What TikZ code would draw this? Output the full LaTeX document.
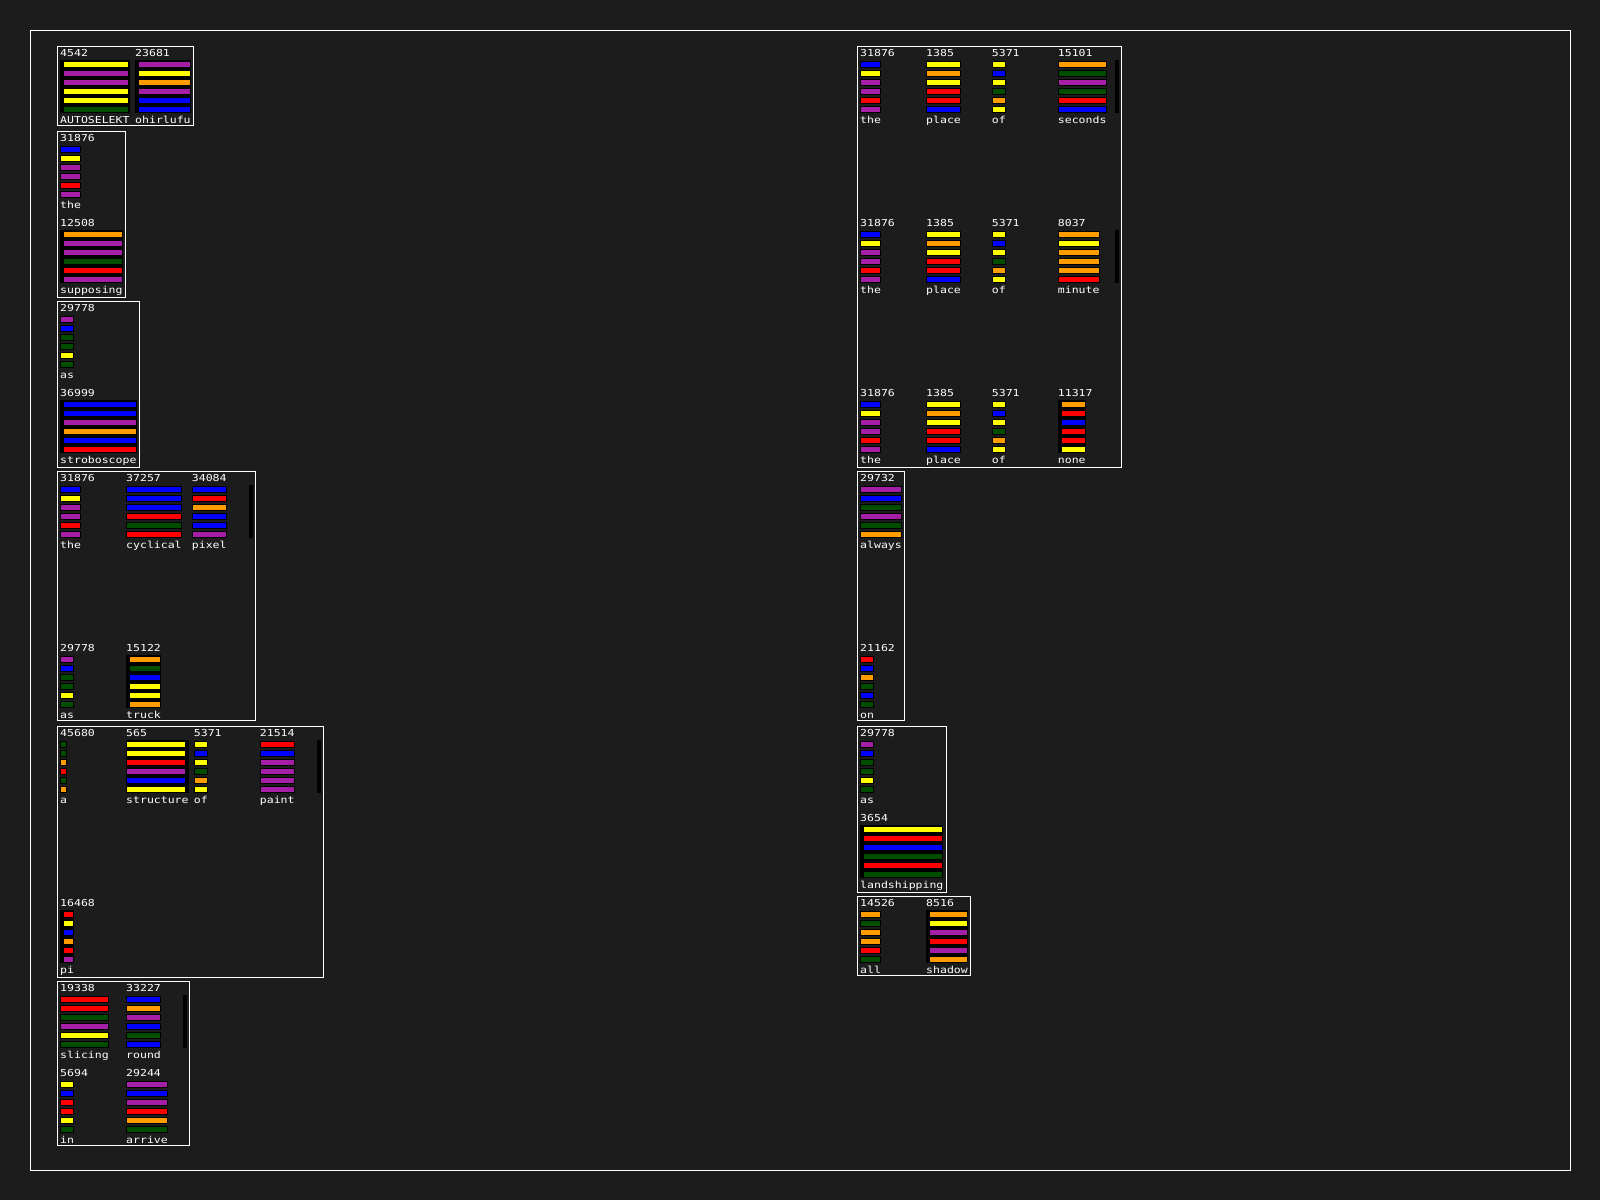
\documentclass[tikz,border=0pt]{standalone}
\usepackage{fontspec}
\newfontfamily\pix[FakeStretch=1.2]{DejaVu Sans Mono}
\definecolor{cY}{HTML}{FFFF00}
\definecolor{cP}{HTML}{A41EA6}
\definecolor{cO}{HTML}{FF9D00}
\definecolor{cG}{HTML}{004D00}
\definecolor{cB}{HTML}{0000FF}
\definecolor{cR}{HTML}{FF0000}
\definecolor{bg}{HTML}{1C1C1C}
\newcounter{nc}
\newcommand\wcell[7]{%
  \stepcounter{nc}%
  \node[lbl, name=n\the\value{nc}] at (#1,#2+7) {#3};
  \foreach \cc [count=\ii from 0] in {#7}{%
    \draw[bar, fill=c\cc] (#5+0.5,#2+11.8+9*\ii) rectangle (#6-0.5,#2+17.8+9*\ii);
  }
  \node[lbl, name=w\the\value{nc}] at (#1,#2+74) {#4};
}
\newcommand\bstrip[3]{\fill[black] (#1,#3+10.7) rectangle (#2,#3+63.4);}
\begin{document}
\begin{tikzpicture}[x=1pt,y=-1pt,
  lbl/.style={anchor=base west, inner sep=0pt, text=white, font=\pix\fontsize{9.6}{10}\selectfont},
  bar/.style={draw=black, line width=1pt},
  frame/.style={draw=white, line width=1pt}]
\fill[bg] (0,0) rectangle (1600,1200);
\useasboundingbox (0,0) rectangle (1600,1200);
% outer frame
\draw[frame] (30.5,30.5) rectangle (1570.5,1170);
% boxes
\draw[frame] (57.5,46.5) rectangle (193.5,125.7);
\draw[frame] (57.5,131.7) rectangle (125,297.3);
\draw[frame] (57.5,301.3) rectangle (139.3,467.3);
\draw[frame] (57.5,471.3) rectangle (255.3,720.3);
\draw[frame] (57.5,726.3) rectangle (323.3,977.7);
\draw[frame] (57.5,981.3) rectangle (189.3,1145.3);
\draw[frame] (857.5,46.5) rectangle (1121.7,467.3);
\draw[frame] (857.5,471.3) rectangle (904.3,720.3);
\draw[frame] (857.5,726.3) rectangle (946.7,892.3);
\draw[frame] (857.5,896.3) rectangle (970.7,975.3);
% black strips behind bars
\bstrip{60}{130}{49.3}
\bstrip{135}{191}{49.3}
\bstrip{60}{123}{219.3}
\bstrip{60}{137}{389.3}
\bstrip{126}{161}{644.3}
\bstrip{126}{189}{729.3}
\bstrip{60}{73.7}{899.3}
\bstrip{1057.7}{1086}{389.3}
\bstrip{860}{943.3}{814.3}
\bstrip{926}{968}{899.3}
% scroll bars
\bstrip{249}{253}{474.3}
\bstrip{317}{321}{729.3}
\bstrip{183}{187}{984.3}
\bstrip{1115}{1119}{49.3}
\bstrip{1115}{1119}{219.3}
% box 1
\wcell{60}{49.3}{4542}{AUTOSELEKT}{63.3}{129.3}{Y,P,P,Y,Y,G}
\wcell{135}{49.3}{23681}{ohirlufu}{138.3}{190.7}{P,Y,O,P,B,B}
% box 2
\wcell{60}{134.3}{31876}{the}{60}{81}{B,Y,P,P,R,P}
\wcell{60}{219.3}{12508}{supposing}{63.3}{122.7}{O,P,P,G,R,P}
% box 3
\wcell{60}{304.3}{29778}{as}{60}{73.7}{P,B,G,G,Y,G}
\wcell{60}{389.3}{36999}{stroboscope}{63.3}{136.7}{B,B,P,O,B,R}
% box 4
\wcell{60}{474.3}{31876}{the}{60}{81}{B,Y,P,P,R,P}
\wcell{126}{474.3}{37257}{cyclical}{126}{182}{B,B,B,R,G,R}
\wcell{191.7}{474.3}{34084}{pixel}{191.7}{226.7}{B,R,O,B,B,P}
\wcell{60}{644.3}{29778}{as}{60}{73.7}{P,B,G,G,Y,G}
\wcell{126}{644.3}{15122}{truck}{129.3}{161}{O,G,B,Y,Y,O}
% box 5
\wcell{60}{729.3}{45680}{a}{60}{67}{G,G,O,R,G,O}
\wcell{126}{729.3}{565}{structure}{126}{185.7}{Y,Y,R,P,B,Y}
\wcell{193.7}{729.3}{5371}{of}{193.7}{207.7}{Y,B,Y,G,O,Y}
\wcell{259.7}{729.3}{21514}{paint}{259.7}{295}{R,B,P,P,P,P}
\wcell{60}{899.3}{16468}{pi}{63.3}{73.7}{R,Y,B,O,R,P}
% box 6
\wcell{60}{984.3}{19338}{slicing}{60}{108.7}{R,R,G,P,Y,G}
\wcell{126}{984.3}{33227}{round}{126}{160.7}{B,O,P,B,G,B}
\wcell{60}{1069.3}{5694}{in}{60}{73.7}{Y,B,R,R,Y,G}
\wcell{126}{1069.3}{29244}{arrive}{126}{168}{P,B,P,R,O,G}
% right box 1
\wcell{860}{49.3}{31876}{the}{860}{881}{B,Y,P,P,R,P}
\wcell{926}{49.3}{1385}{place}{926}{960.7}{Y,O,Y,R,R,B}
\wcell{991.7}{49.3}{5371}{of}{991.7}{1005.7}{Y,B,Y,G,O,Y}
\wcell{1057.7}{49.3}{15101}{seconds}{1057.7}{1107}{O,G,P,G,R,B}
\wcell{860}{219.3}{31876}{the}{860}{881}{B,Y,P,P,R,P}
\wcell{926}{219.3}{1385}{place}{926}{960.7}{Y,O,Y,R,R,B}
\wcell{991.7}{219.3}{5371}{of}{991.7}{1005.7}{Y,B,Y,G,O,Y}
\wcell{1057.7}{219.3}{8037}{minute}{1057.7}{1100}{O,Y,O,O,O,R}
\wcell{860}{389.3}{31876}{the}{860}{881}{B,Y,P,P,R,P}
\wcell{926}{389.3}{1385}{place}{926}{960.7}{Y,O,Y,R,R,B}
\wcell{991.7}{389.3}{5371}{of}{991.7}{1005.7}{Y,B,Y,G,O,Y}
\wcell{1057.7}{389.3}{11317}{none}{1061}{1085.7}{O,R,B,R,R,Y}
% right box 2
\wcell{860}{474.3}{29732}{always}{860}{901.7}{P,B,G,P,G,O}
\wcell{860}{644.3}{21162}{on}{860}{873.7}{R,B,O,G,B,G}
% right box 3
\wcell{860}{729.3}{29778}{as}{860}{873.7}{P,B,G,G,Y,G}
\wcell{860}{814.3}{3654}{landshipping}{863.3}{943.3}{Y,R,B,G,R,G}
% right box 4
\wcell{860}{899.3}{14526}{all}{860}{881}{O,G,O,O,R,G}
\wcell{926}{899.3}{8516}{shadow}{929.3}{967.7}{O,Y,P,R,P,O}
\end{tikzpicture}
\end{document}
